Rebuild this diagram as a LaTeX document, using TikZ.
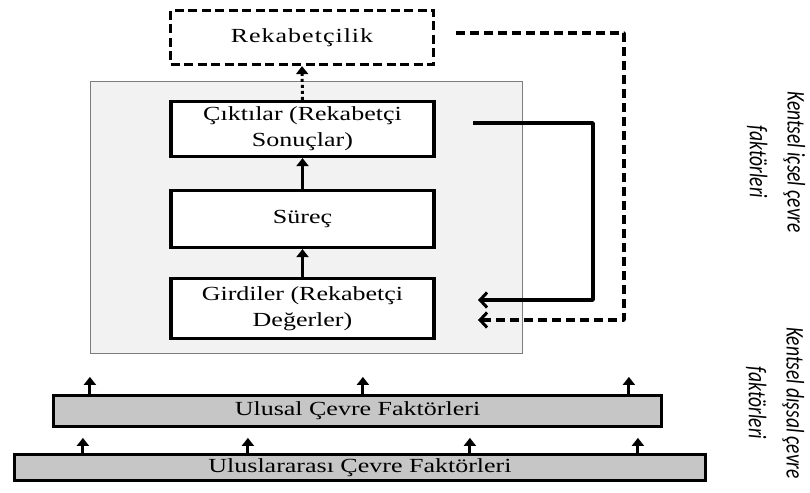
\documentclass[tikz,border=0pt]{standalone}
\usepackage{fontspec}
\setmainfont{Liberation Serif}[FakeStretch=1.3]
\newfontfamily\sidefont{Carlito}
\usetikzlibrary{arrows.meta}

\definecolor{panelgray}{RGB}{242,242,242}
\definecolor{panelline}{RGB}{125,125,125}
\definecolor{bargray}{RGB}{198,198,198}

\begin{document}
\begin{tikzpicture}[x=1pt,y=-1pt,
	box/.style={draw,line width=3.2pt,fill=white,minimum width=263pt,align=center,
		inner sep=2pt,font=\fontsize{20}{26}\selectfont},
	dashbox/.style={box,dash pattern=on 9pt off 4.5pt},
	panel/.style={draw=panelline,line width=1.2pt,fill=panelgray},
	bar/.style={draw,line width=3.2pt,fill=bargray,inner sep=2pt,font=\fontsize{20}{24}\selectfont},
	uparrow/.style={line width=3pt,-{Triangle[length=8pt,width=12pt]}},
	feed/.style={line width=3.4pt,line join=round,-{Straight Barb[length=7pt,width=15pt,line width=3pt]}},
	feeddash/.style={feed,dash pattern=on 9pt off 5pt},
	dots/.style={uparrow,dash pattern=on 3pt off 3pt},
	sidelabel/.style={rotate=-90,transform shape,align=center,inner sep=1pt,
		font=\sidefont\itshape\fontsize{19.5}{29}\selectfont}]
	\useasboundingbox (0,0) rectangle (810,492);

	% Inner city environment
	\node[panel,minimum width=432pt,minimum height=272pt] (icsel) at (306.5,217.5) {};

	% Competitiveness
	\node[dashbox,minimum height=54pt] (rekabet) at (302,37.5) {\addfontfeature{LetterSpace=5}Rekabetçilik};

	% Outputs, process, inputs
	\node[box,minimum height=55pt] (ciktilar) at (302.5,129) {Çıktılar (Rekabetçi\\Sonuçlar)};
	\node[box,minimum height=57pt] (surec) at (302.5,219) {Süreç};
	\node[box,minimum height=60pt] (girdiler) at (302.5,308.5) {Girdiler (Rekabetçi\\Değerler)};

	\draw[uparrow] (surec.north) -- (ciktilar.south);
	\draw[uparrow] (girdiler.north) -- (surec.south);
	\draw[dots] (ciktilar.north) -- (rekabet.south);

	% Feedback loops
	\coordinate (cikisA) at (473,123);
	\coordinate (girisA) at (478,300);
	\coordinate (cikisB) at (456,33);
	\coordinate (girisB) at (478,320);
	\draw[feed] (cikisA) -- ++(120,0) |- (girisA);
	\draw[feeddash] (cikisB) -- ++(168,0) |- (girisB);

	% Outer environment bars
	\node[bar,minimum width=608pt,minimum height=31pt] (ulusal) at (357.5,411) {Ulusal Çevre Faktörleri};
	\node[bar,minimum width=691pt,minimum height=26pt] (uluslar) at (360,467.5) {Uluslararası Çevre Faktörleri};

	\foreach \dx in {38,311,577}
		\draw[uparrow] ([xshift=\dx pt]ulusal.north west) -- ++(0,-17);
	\foreach \dx in {70,235,457,625}
		\draw[uparrow] ([xshift=\dx pt]uluslar.north west) -- ++(0,-15);

	% Side labels
	\begin{scope}[shift={(776,162)},xscale=1.3]
		\node[sidelabel] (icselyazi) at (0,0) {Kentsel içsel çevre\\faktörleri};
	\end{scope}
	\begin{scope}[shift={(775,403)},xscale=1.3]
		\node[sidelabel] (dissalyazi) at (0,0) {Kentsel dışsal çevre\\faktörleri};
	\end{scope}
\end{tikzpicture}
\end{document}
